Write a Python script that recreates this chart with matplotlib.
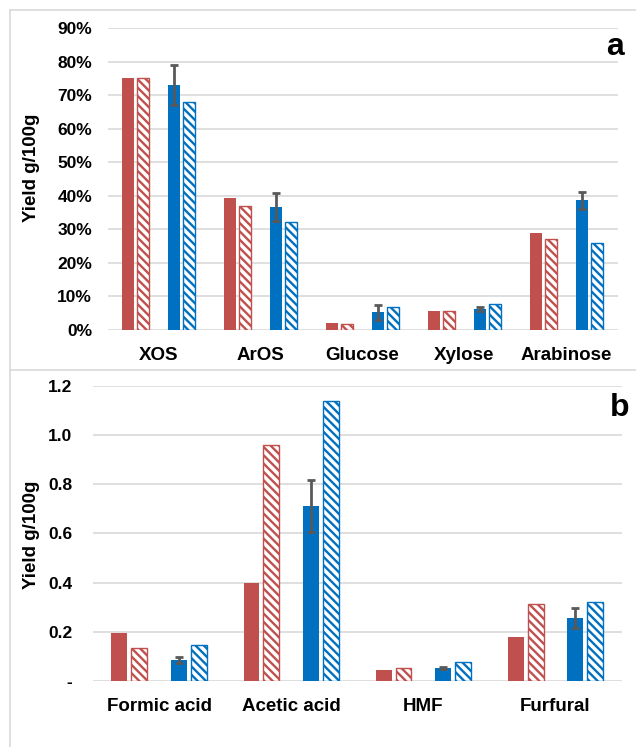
import matplotlib
matplotlib.use("Agg")
import matplotlib.pyplot as plt
from matplotlib.lines import Line2D
from matplotlib.ticker import FixedLocator
import numpy as np

plt.rcParams['font.family'] = ['Liberation Sans', 'DejaVu Sans']
plt.rcParams['font.weight'] = 'bold'
plt.rcParams['hatch.linewidth'] = 1.7

RED = '#C0504D'
BLUE = '#0070C0'
ERR = '#595959'
GRID = '#D9D9D9'

# panel a: sugars and oligosaccharides (fraction of 100 g)
sugars = ['XOS', 'ArOS', 'Glucose', 'Xylose', 'Arabinose']
sug_red = [0.753, 0.395, 0.020, 0.058, 0.289]
sug_red_hatch = [0.753, 0.371, 0.018, 0.057, 0.271]
sug_blue = [0.730, 0.367, 0.053, 0.063, 0.387]
sug_blue_err = [0.060, 0.041, 0.022, 0.006, 0.025]
sug_blue_hatch = [0.681, 0.321, 0.070, 0.077, 0.261]
sug_ticks = [0, 0.1, 0.2, 0.3, 0.4, 0.5, 0.6, 0.7, 0.8, 0.9]

# panel b: degradation products (g/100g)
byprod = ['Formic acid', 'Acetic acid', 'HMF', 'Furfural']
bp_red = [0.195, 0.400, 0.045, 0.177]
bp_red_hatch = [0.135, 0.958, 0.054, 0.313]
bp_blue = [0.087, 0.711, 0.053, 0.257]
bp_blue_err = [0.012, 0.104, 0.004, 0.040]
bp_blue_hatch = [0.145, 1.139, 0.077, 0.320]
bp_ticks = [0, 0.2, 0.4, 0.6, 0.8, 1.0, 1.2]
bp_ticklabels = ['-', '0.2', '0.4', '0.6', '0.8', '1.0', '1.2']

W, H = 636, 747
fig = plt.figure(figsize=(W / 100, H / 100), dpi=100)


def panel(rect, cats, red, red_h, blue, blue_err, blue_h, ymax):
    ax = fig.add_axes(rect)
    x = np.arange(len(cats))
    bw = 0.12
    ax.bar(x - 0.30, red, bw, color=RED, zorder=3)
    ax.bar(x - 0.15, red_h, bw, color='white', edgecolor=RED, hatch='\\\\\\\\',
           linewidth=1.0, zorder=3)
    ax.bar(x + 0.15, blue, bw, color=BLUE, zorder=3)
    ax.bar(x + 0.30, blue_h, bw, color='white', edgecolor=BLUE, hatch='\\\\\\\\',
           linewidth=1.0, zorder=3)
    ax.errorbar(x + 0.15, blue, yerr=blue_err, fmt='none', ecolor=ERR,
                elinewidth=2, capsize=2.6, capthick=2, zorder=4)
    ax.set_xlim(-0.5, len(cats) - 0.5)
    ax.set_ylim(0, ymax)
    ax.set_xticks(x)
    ax.set_xticklabels(cats, fontsize=13.5, fontweight='bold')
    for s in ax.spines.values():
        s.set_visible(False)
    ax.grid(axis='y', color=GRID, linewidth=1.2, zorder=0)
    ax.set_axisbelow(True)
    ax.tick_params(length=0)
    return ax


ax1 = panel([107.5 / W, 1 - 330 / H, 510 / W, 301.7 / H], sugars,
            sug_red, sug_red_hatch, sug_blue, sug_blue_err, sug_blue_hatch, 0.9)
ax1.yaxis.set_major_locator(FixedLocator(sug_ticks))
ax1.set_yticklabels(['%d%%' % round(t * 100) for t in sug_ticks], fontsize=12.5,
                    fontweight='bold')
ax1.tick_params(axis='y', pad=11)
ax1.tick_params(axis='x', pad=12)

ax2 = panel([93 / W, 1 - 681 / H, 528.5 / W, 295.3 / H], byprod,
            bp_red, bp_red_hatch, bp_blue, bp_blue_err, bp_blue_hatch, 1.2)
ax2.yaxis.set_major_locator(FixedLocator(bp_ticks))
ax2.set_yticklabels(bp_ticklabels, fontsize=12.5, fontweight='bold')
ax2.tick_params(axis='y', pad=15)
ax2.tick_params(axis='x', pad=12)

fig.text(31 / W, 1 - 168 / H, 'Yield g/100g', rotation=90, fontsize=13.5,
         fontweight='bold', ha='center', va='center')
fig.text(31 / W, 1 - 535 / H, 'Yield g/100g', rotation=90, fontsize=13.5,
         fontweight='bold', ha='center', va='center')
fig.text(615 / W, 1 - 47 / H, 'a', fontsize=23, fontweight='bold',
         ha='center', va='center')
fig.text(620 / W, 1 - 408 / H, 'b', fontsize=23, fontweight='bold',
         ha='center', va='center')

# panel frames
for xs, ys in [([10, 10], [10, H]), ([10, W], [10, 10]), ([10, W], [370, 370])]:
    fig.add_artist(Line2D([v / W for v in xs], [1 - v / H for v in ys],
                          color='#D9D9D9', linewidth=1.2))

fig.savefig('out.png', dpi=100)
